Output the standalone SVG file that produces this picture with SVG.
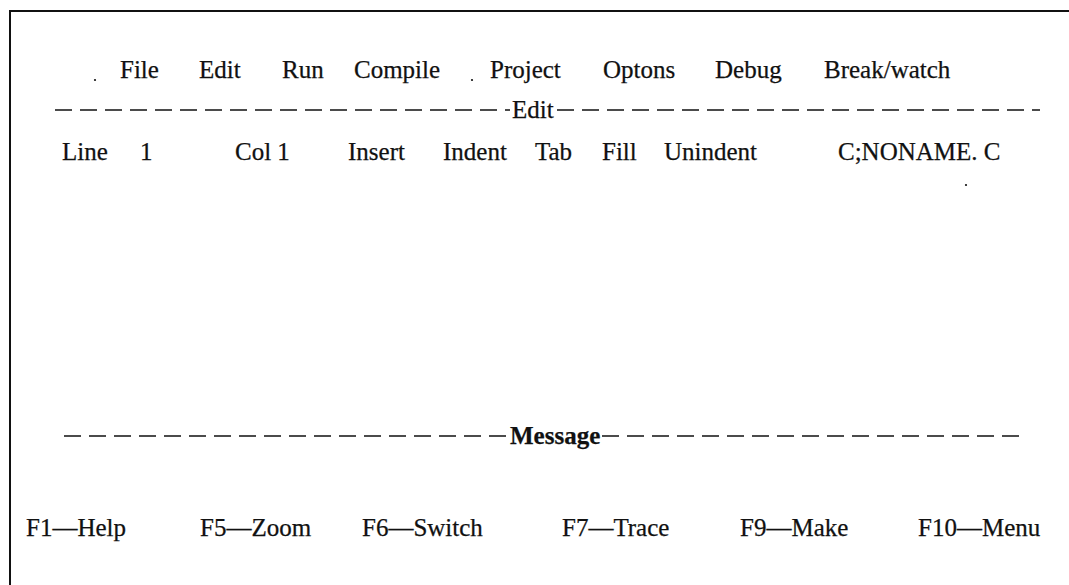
<svg xmlns="http://www.w3.org/2000/svg" width="1069" height="585" viewBox="0 0 1069 585">
<style>
text{font-family:"Liberation Serif","Times New Roman",serif;font-size:25px;fill:#111;stroke:#111;stroke-width:0.25}
.b{font-weight:bold}
.frame{stroke:#111;stroke-width:2;fill:none}
.dash{stroke:#111;stroke-width:1.5;stroke-dasharray:17 8;fill:none}
</style>
<rect width="1069" height="585" fill="#fff"/>
<g id="frame"><path class="frame" d="M10,585 V11 H1069"/></g>
<g id="menu">
<circle cx="95" cy="80" r="1.1" fill="#111"/>
<text x="120" y="78">File</text>
<text x="199" y="78">Edit</text>
<text x="282" y="78">Run</text>
<text x="354" y="78">Compile</text>
<circle cx="472" cy="80" r="1.1" fill="#111"/>
<text x="490" y="78">Project</text>
<text x="603" y="78">Optons</text>
<text x="715" y="78">Debug</text>
<text x="824" y="78">Break/watch</text>
</g>
<g id="connectors">
<path class="dash" d="M55,110 H510"/>
<path class="dash" d="M557,110 H1040"/>
<path class="dash" d="M64,436 H507"/>
<path class="dash" d="M602,436 H1020"/>
</g>
<g id="edit-title"><text x="512" y="118">Edit</text></g>
<g id="status">
<text x="62" y="160">Line</text>
<text x="140" y="160">1</text>
<text x="235" y="160">Col 1</text>
<text x="348" y="160">Insert</text>
<text x="443" y="160">Indent</text>
<text x="535" y="160">Tab</text>
<text x="602" y="160">Fill</text>
<text x="664" y="160">Unindent</text>
<text x="838" y="160">C;NONAME. C</text>
<circle cx="966" cy="185" r="1.1" fill="#111"/>
</g>
<g id="message-title"><text class="b" x="510" y="444">Message</text></g>
<g id="keys">
<text x="26" y="536">F1—Help</text>
<text x="200" y="536">F5—Zoom</text>
<text x="362" y="536">F6—Switch</text>
<text x="562" y="536">F7—Trace</text>
<text x="740" y="536">F9—Make</text>
<text x="918" y="536">F10—Menu</text>
</g>
</svg>
